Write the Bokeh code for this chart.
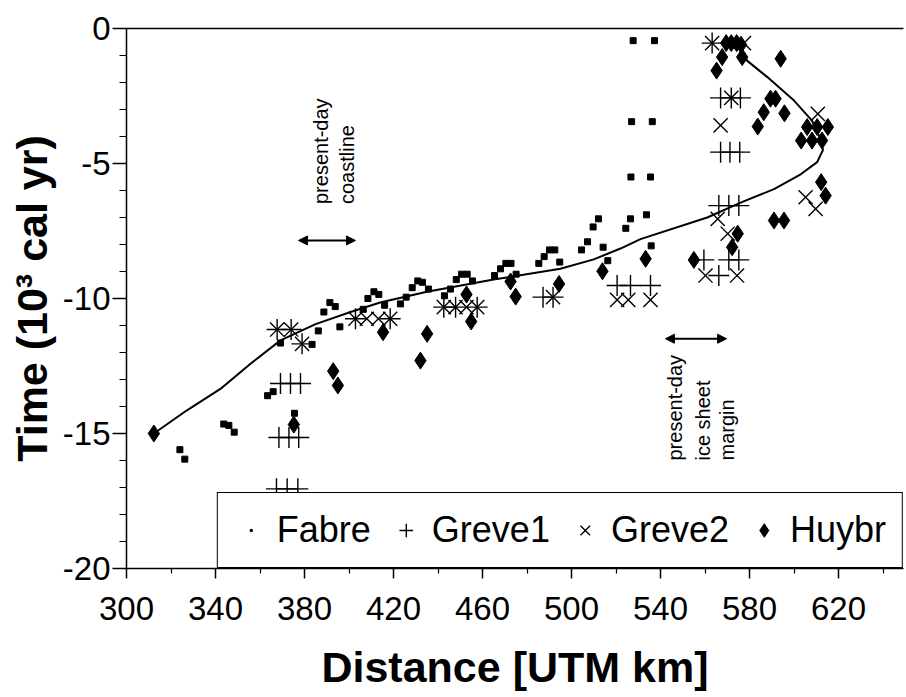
import numpy as np
from bokeh.plotting import figure
from bokeh.models import (Range1d, FixedTicker, LinearAxis, Legend, LegendItem,
                          Arrow, NormalHead)
from bokeh.core.properties import value
from bokeh.embed import file_html
from bokeh.resources import INLINE

# ---------------- data ----------------
fabre_x = [324.0, 326.2, 343.7, 346.0, 348.4, 363.4, 365.9, 375.5, 369.2, 383.4,
           386.2, 388.7, 391.4, 393.8, 395.9, 406.4, 408.5, 411.2, 413.4, 416.0,
           423.1, 425.7, 428.4, 430.9, 433.0, 435.7, 442.9, 445.6, 448.2, 450.6,
           453.1, 455.5, 465.4, 468.1, 470.5, 472.8, 475.1, 485.3, 487.7, 490.1,
           492.5, 494.7, 504.5, 507.2, 509.7, 512.1, 514.2, 516.3, 524.4, 526.5,
           527.7, 537.3, 527.0, 536.3, 526.7, 535.5, 533.7, 535.8]
fabre_y = [-15.6, -15.95, -14.65, -14.7, -14.95, -13.6, -13.45, -14.25, -11.65, -11.7,
           -11.2, -10.5, -10.15, -10.3, -11.05, -10.4, -10.0, -9.75, -9.85, -10.25,
           -10.2, -9.95, -9.6, -9.35, -9.4, -9.65, -9.9, -9.65, -9.3, -9.1,
           -9.1, -9.35, -9.15, -8.9, -8.7, -8.7, -9.1, -8.7, -8.45, -8.2,
           -8.2, -8.65, -8.2, -7.9, -7.35, -7.05, -8.1, -8.6, -7.4, -7.05,
           -0.45, -0.45, -3.45, -3.45, -5.5, -5.5, -6.9, -8.05]

greve1_x = [369.2, 373.7, 378.2, 368.5, 373.0, 377.4, 367.4, 372.2, 377.0,
            367.7, 374.0, 378.9, 402.9, 418.5, 442.6, 447.9, 457.6,
            487.2, 491.7, 520.5, 526.5, 535.5, 563.2, 567.0, 571.8, 575.9,
            567.0, 571.2, 575.6, 566.2, 570.7, 575.2, 559.5, 570.7, 575.2, 566.2]
greve1_y = [-13.15, -13.15, -13.15, -15.15, -15.15, -15.15, -17.05, -17.05, -17.05,
            -11.15, -11.15, -11.68, -10.75, -10.75, -10.32, -10.32, -10.32,
            -9.95, -9.95, -9.52, -9.52, -9.52, -0.54, -2.57, -2.57, -2.57,
            -4.58, -4.58, -4.58, -6.56, -6.56, -6.56, -8.57, -8.57, -8.57, -9.15]

greve2_x = [367.7, 374.0, 378.9, 402.9, 408.0, 413.2, 418.5, 442.6, 447.9, 452.8,
            457.6, 491.7, 520.5, 525.5, 535.5, 563.2, 577.5, 571.8, 567.0, 565.7,
            570.2, 560.2, 574.4, 610.7, 605.2, 609.7]
greve2_y = [-11.15, -11.15, -11.68, -10.75, -10.75, -10.75, -10.75, -10.32, -10.32, -10.32,
            -10.32, -9.95, -10.05, -10.05, -10.05, -0.54, -0.54, -2.57, -3.59, -7.05,
            -7.6, -9.15, -9.15, -3.16, -6.25, -6.68]

huybr_x = [312.3, 375.2, 392.9, 395.0, 415.3, 432.1, 435.1, 452.8, 454.9, 472.6,
           474.9, 494.4, 513.9, 533.3, 555.0, 569.5, 571.8, 574.2, 576.2, 567.7,
           576.7, 565.2, 594.0, 589.4, 591.7, 586.4, 583.7, 595.7, 605.9, 610.4,
           615.2, 603.2, 608.1, 612.6, 612.2, 614.2, 574.7, 572.2, 591.0, 595.5]
huybr_y = [-15.0, -14.67, -12.69, -13.22, -11.25, -12.3, -11.31, -9.85, -10.85, -9.37,
           -9.93, -9.46, -8.99, -8.53, -8.57, -0.54, -0.54, -0.54, -0.6, -1.06,
           -1.06, -1.56, -1.12, -2.6, -2.6, -3.1, -3.63, -3.14, -3.65, -3.65,
           -3.65, -4.15, -4.15, -4.15, -5.69, -6.19, -7.6, -8.1, -7.11, -7.11]

curve_x = [312.3, 327.0, 342.2, 356.0, 369.2, 385.0, 400.7, 414.0, 435.0, 465.0,
           495.0, 510.0, 522.0, 531.0, 561.0, 576.0, 591.0, 603.0, 610.4, 613.0,
           612.0, 608.0, 600.0, 588.0, 579.0, 574.5]
curve_y = [-15.0, -14.15, -13.35, -12.4, -11.55, -10.95, -10.5, -10.15, -9.75, -9.3,
           -8.9, -8.55, -8.15, -7.8, -7.0, -6.45, -5.95, -5.4, -4.95, -4.5,
           -4.1, -3.4, -2.67, -1.8, -1.2, -0.6]

x_ticks = [300, 340, 380, 420, 460, 500, 540, 580, 620]
x_minor = [320, 360, 400, 440, 480, 520, 560, 600, 640]
y_ticks = [-20, -15, -10, -5, 0]
y_minor = [-19, -18, -17, -16, -14, -13, -12, -11, -9, -8, -7, -6, -4, -3, -2, -1]
y_tick_labels = {-20: "-20", -15: "-15", -10: "-10", -5: "-5", 0: "0"}

coast_text = ["present-day", "coastline"]
coast_text_x = [387.2, 399.3]
coast_text_y = [-6.5, -6.5]
coast_arrow_x = [377.3, 402.9]
coast_arrow_y = -7.85

ice_text = ["present-day", "ice sheet", "margin"]
ice_text_x = [546.7, 558.9, 570.0]
ice_text_y = [-16.0, -16.0, -16.0]
ice_arrow_x = [542.2, 569.7]
ice_arrow_y = -11.49

FONT = "Liberation Sans"

# ---------------- figure ----------------
p = figure(width=905, height=697, x_range=Range1d(300, 649.2), y_range=Range1d(-20, 0),
           output_backend="svg", toolbar_location=None,
           min_border_left=126, min_border_top=28, min_border_bottom=129, min_border_right=2)
p.outline_line_color = None
p.grid.visible = False
p.background_fill_color = "white"
p.border_fill_color = "white"

for ax in (p.xaxis[0], p.yaxis[0]):
    ax.axis_line_width = 1.5
    ax.major_tick_line_width = 1.5
    ax.minor_tick_line_width = 1.2
    ax.major_tick_in = 0
    ax.minor_tick_in = 0
    ax.major_label_text_font = FONT
    ax.major_label_text_font_size = "33px"
    ax.major_label_text_color = "black"
    ax.axis_label_text_font = FONT
    ax.axis_label_text_font_style = "bold"
    ax.axis_label_text_font_size = "43px"
    ax.axis_label_text_color = "black"

p.xaxis.ticker = FixedTicker(ticks=x_ticks, minor_ticks=x_minor)
p.xaxis.major_tick_out = 10
p.xaxis.minor_tick_out = 5
p.xaxis.major_label_standoff = 18
p.xaxis.axis_label = "Distance [UTM km]"
p.xaxis.axis_label_standoff = 20

p.yaxis.ticker = FixedTicker(ticks=y_ticks, minor_ticks=y_minor)
p.yaxis.major_label_overrides = y_tick_labels
p.yaxis.major_tick_out = 14
p.yaxis.minor_tick_out = 7
p.yaxis.major_label_standoff = 2
p.yaxis.axis_label = "Time (10³ cal yr)"
p.yaxis.axis_label_standoff = 4

top_axis = LinearAxis(ticker=FixedTicker(ticks=[]), major_label_text_font_size="0px",
                      major_tick_line_color=None, minor_tick_line_color=None,
                      axis_line_width=1.5)
p.add_layout(top_axis, "above")

# ---------------- marks ----------------
p.line(curve_x, curve_y, line_width=2, line_color="black")
r_fa = p.scatter(fabre_x, fabre_y, marker="square", size=6, fill_color="black", line_color="black")
r_fa_dot = p.scatter(fabre_x, fabre_y, marker="dot", size=6, fill_color="black", line_color="black")
r_g1 = p.scatter(greve1_x, greve1_y, marker="cross", size=21, line_color="black", line_width=1.4)
r_g2 = p.scatter(greve2_x, greve2_y, marker="x", size=20, line_color="black", line_width=1.4)
r_hu = p.scatter(huybr_x, huybr_y, marker="diamond", size=17, fill_color="black", line_color="black")

# ---------------- annotations ----------------
p.text(x=coast_text_x, y=coast_text_y, text=coast_text, angle=np.pi / 2,
       text_align="left", text_baseline="middle", text_font=value(FONT),
       text_font_size="20px", text_color="black")
p.text(x=ice_text_x, y=ice_text_y, text=ice_text, angle=np.pi / 2,
       text_align="left", text_baseline="middle", text_font=value(FONT),
       text_font_size="20px", text_color="black")

for ax_, ay_ in ((coast_arrow_x, coast_arrow_y), (ice_arrow_x, ice_arrow_y)):
    p.add_layout(Arrow(start=NormalHead(size=9, fill_color="black", line_color="black"),
                       end=NormalHead(size=9, fill_color="black", line_color="black"),
                       x_start=ax_[0], y_start=ay_, x_end=ax_[1], y_end=ay_,
                       line_width=2, line_color="black"))

legend = Legend(items=[LegendItem(label="Fabre", renderers=[r_fa_dot]),
                       LegendItem(label="Greve1", renderers=[r_g1]),
                       LegendItem(label="Greve2", renderers=[r_g2]),
                       LegendItem(label="Huybr", renderers=[r_hu])],
                location="bottom_right", orientation="horizontal", margin=0,
                padding=16, spacing=18, label_standoff=9,
                glyph_width=34, glyph_height=34,
                label_text_font=FONT, label_text_font_size="36px",
                label_text_color="black",
                border_line_color="black", border_line_width=1.5, border_line_alpha=1.0,
                background_fill_color="white", background_fill_alpha=1.0)
p.add_layout(legend)

open("out.html", "w").write(file_html(p, INLINE))
